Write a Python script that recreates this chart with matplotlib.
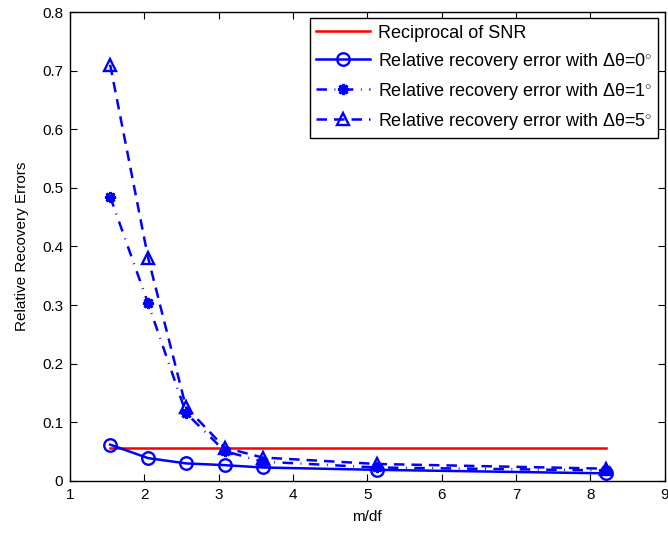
import numpy as np
import matplotlib
matplotlib.use('Agg')
import matplotlib.pyplot as plt

# data
m_df = [1.54, 2.05, 2.56, 3.08, 3.59, 5.13, 8.21]
snr_recip = [0.056] * len(m_df)
err_0deg = [0.062, 0.039, 0.030, 0.027, 0.023, 0.019, 0.013]
err_1deg = [0.485, 0.303, 0.116, 0.051, 0.033, 0.023, 0.018]
err_5deg = [0.710, 0.381, 0.126, 0.057, 0.040, 0.029, 0.021]

xticks = [1, 2, 3, 4, 5, 6, 7, 8, 9]
yticks = [0, 0.1, 0.2, 0.3, 0.4, 0.5, 0.6, 0.7, 0.8]
ytick_labels = ['0', '0.1', '0.2', '0.3', '0.4', '0.5', '0.6', '0.7', '0.8']

plt.rcParams['font.family'] = ['Liberation Sans', 'DejaVu Sans']
plt.rcParams['mathtext.fontset'] = 'custom'
plt.rcParams['mathtext.rm'] = 'Liberation Sans'
plt.rcParams['mathtext.it'] = 'Liberation Sans:italic'

fig = plt.figure(figsize=(6.68, 5.34), dpi=100)
ax = fig.add_axes([0.1048, 0.0993, 0.8902, 0.8782])

blue = (0, 0, 1)
lw = 1.8
ax.plot(m_df, snr_recip, color='red', lw=lw, label='Reciprocal of SNR')
ax.plot(m_df, err_0deg, '-', color=blue, lw=lw, marker='o', ms=9,
        mfc='none', mew=1.7, label='Relative recovery error with \u0394\u03b8=0$^{\\circ}$')
ax.plot(m_df, err_1deg, color=blue, lw=lw, dashes=(4.2, 3.0, 0.35, 3.0),
        marker=(8, 2, 0), ms=8, mew=2.0,
        label='Relative recovery error with \u0394\u03b8=1$^{\\circ}$')
ax.plot(m_df, err_5deg, color=blue, lw=lw, dashes=(4.2, 2.8), marker='^', ms=9,
        mfc='none', mew=1.7, label='Relative recovery error with \u0394\u03b8=5$^{\\circ}$')

ax.set_xlim(1, 9)
ax.set_ylim(0, 0.8)
ax.set_xticks(xticks)
ax.set_yticks(yticks)
ax.set_yticklabels(ytick_labels)
ax.tick_params(direction='in', top=True, right=True, labelsize=11, length=5, pad=5)
for s in ax.spines.values():
    s.set_linewidth(1.0)

ax.set_xlabel('m/df', fontsize=11, labelpad=6)
ax.set_ylabel('Relative Recovery Errors', fontsize=11, labelpad=9)

leg = ax.legend(loc='upper right', fontsize=13, handlelength=3.0, fancybox=False,
                edgecolor='black', framealpha=1, borderaxespad=0.35,
                labelspacing=0.5, handletextpad=0.4, borderpad=0.35)
leg.get_frame().set_linewidth(1.0)

fig.savefig('out.png', dpi=100)
